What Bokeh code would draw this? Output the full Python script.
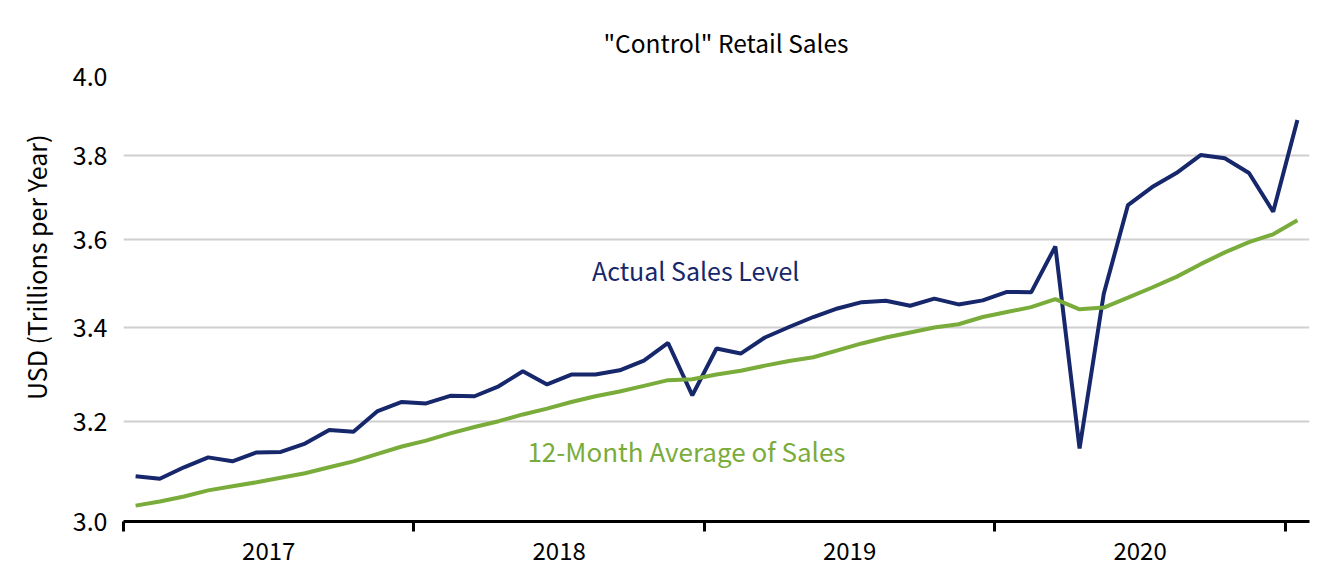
import numpy as np
from bokeh.plotting import figure
from bokeh.models import FixedTicker, Label, Range1d, CustomJSTickFormatter, Title
from bokeh.embed import file_html
from bokeh.resources import INLINE

title_text = '"Control" Retail Sales'
y_label = "USD (Trillions per Year)"
years = ["2017", "2018", "2019", "2020"]
y_ticks = [3.0, 3.2, 3.4, 3.6, 3.8, 4.0]

# Monthly, Jan 2017 .. Jan 2021 (USD trillions, annualized)
actual = [3.089, 3.084, 3.107, 3.127, 3.119, 3.137, 3.138, 3.155, 3.183, 3.179, 3.222, 3.241,
          3.238, 3.254, 3.253, 3.274, 3.306, 3.278, 3.299, 3.299, 3.308, 3.329, 3.367, 3.255,
          3.355, 3.344, 3.379, 3.402, 3.424, 3.443, 3.457, 3.460, 3.449, 3.465, 3.452, 3.461,
          3.480, 3.479, 3.584, 3.145, 3.476, 3.681, 3.724, 3.758, 3.802, 3.794, 3.758, 3.665,
          3.889]
avg12 = [3.031, 3.039, 3.049, 3.061, 3.069, 3.077, 3.086, 3.095, 3.107, 3.119, 3.134, 3.149,
         3.161, 3.176, 3.189, 3.201, 3.215, 3.227, 3.241, 3.253, 3.263, 3.275, 3.287, 3.289,
         3.299, 3.307, 3.318, 3.328, 3.336, 3.351, 3.366, 3.379, 3.390, 3.401, 3.408, 3.424,
         3.435, 3.446, 3.464, 3.441, 3.445, 3.467, 3.490, 3.514, 3.543, 3.570, 3.594, 3.612,
         3.645]

x = np.arange(len(actual)) + 0.5  # month midpoints

FONT = "Noto Sans CJK SC"
NAVY = "#16276b"
GREEN = "#7aac3c"

p = figure(width=1319, height=572, output_backend="svg", toolbar_location=None,
           y_axis_type="log", x_range=Range1d(0, 49), y_range=Range1d(3.0, 4.0),
           min_border_left=123, min_border_right=10, min_border_top=76, min_border_bottom=51)
p.outline_line_color = None
p.background_fill_color = "white"

p.title.text = title_text
p.title.align = "left"
p.title.offset = 480
p.title.text_font = FONT
p.title.text_font_size = "24.5px"
p.title.text_font_style = "normal"
p.title.text_color = "black"
p.title.vertical_align = "bottom"
p.title.standoff = 34

p.line(x, actual, line_color=NAVY, line_width=4)
p.line(x, avg12, line_color=GREEN, line_width=4)

# x axis
xa = p.xaxis[0]
xa.ticker = FixedTicker(ticks=[6, 18, 30, 42], minor_ticks=[0, 12, 24, 36, 48])
xa.major_label_overrides = {6: years[0], 18: years[1], 30: years[2], 42: years[3]}
xa.major_tick_line_color = None
xa.major_tick_out = 0
xa.minor_tick_line_color = "black"
xa.minor_tick_line_width = 3
xa.minor_tick_out = 10
xa.minor_tick_in = 0
xa.axis_line_color = "black"
xa.axis_line_width = 3
xa.major_label_text_font = FONT
xa.major_label_text_font_size = "24px"
xa.major_label_text_color = "black"
xa.major_label_standoff = 10

# y axis
ya = p.yaxis[0]
ya.ticker = FixedTicker(ticks=y_ticks)
ya.formatter = CustomJSTickFormatter(code="return tick.toFixed(1);")
ya.axis_line_color = None
ya.major_tick_line_color = None
ya.minor_tick_line_color = None
ya.major_label_text_font = FONT
ya.major_label_text_font_size = "25px"
ya.major_label_text_color = "black"
ya.major_label_standoff = 10

p.add_layout(Title(text=y_label, align="right", offset=58, vertical_align="middle",
                   text_font=FONT, text_font_size="25px", text_font_style="normal",
                   text_color="black", standoff=30), "left")

p.xgrid.grid_line_color = None
p.ygrid.grid_line_color = "#cfcfcf"
p.ygrid.grid_line_width = 2
p.ygrid.ticker = FixedTicker(ticks=y_ticks)

p.add_layout(Label(x=23.64, y=3.529, text="Actual Sales Level", text_align="center",
                   text_baseline="middle", text_font=FONT, text_font_size="25px", text_color=NAVY))
p.add_layout(Label(x=23.26, y=3.141, text="12-Month Average of Sales", text_align="center",
                   text_baseline="middle", text_font=FONT, text_font_size="26px", text_color=GREEN))

open("out.html", "w").write(file_html(p, INLINE))
